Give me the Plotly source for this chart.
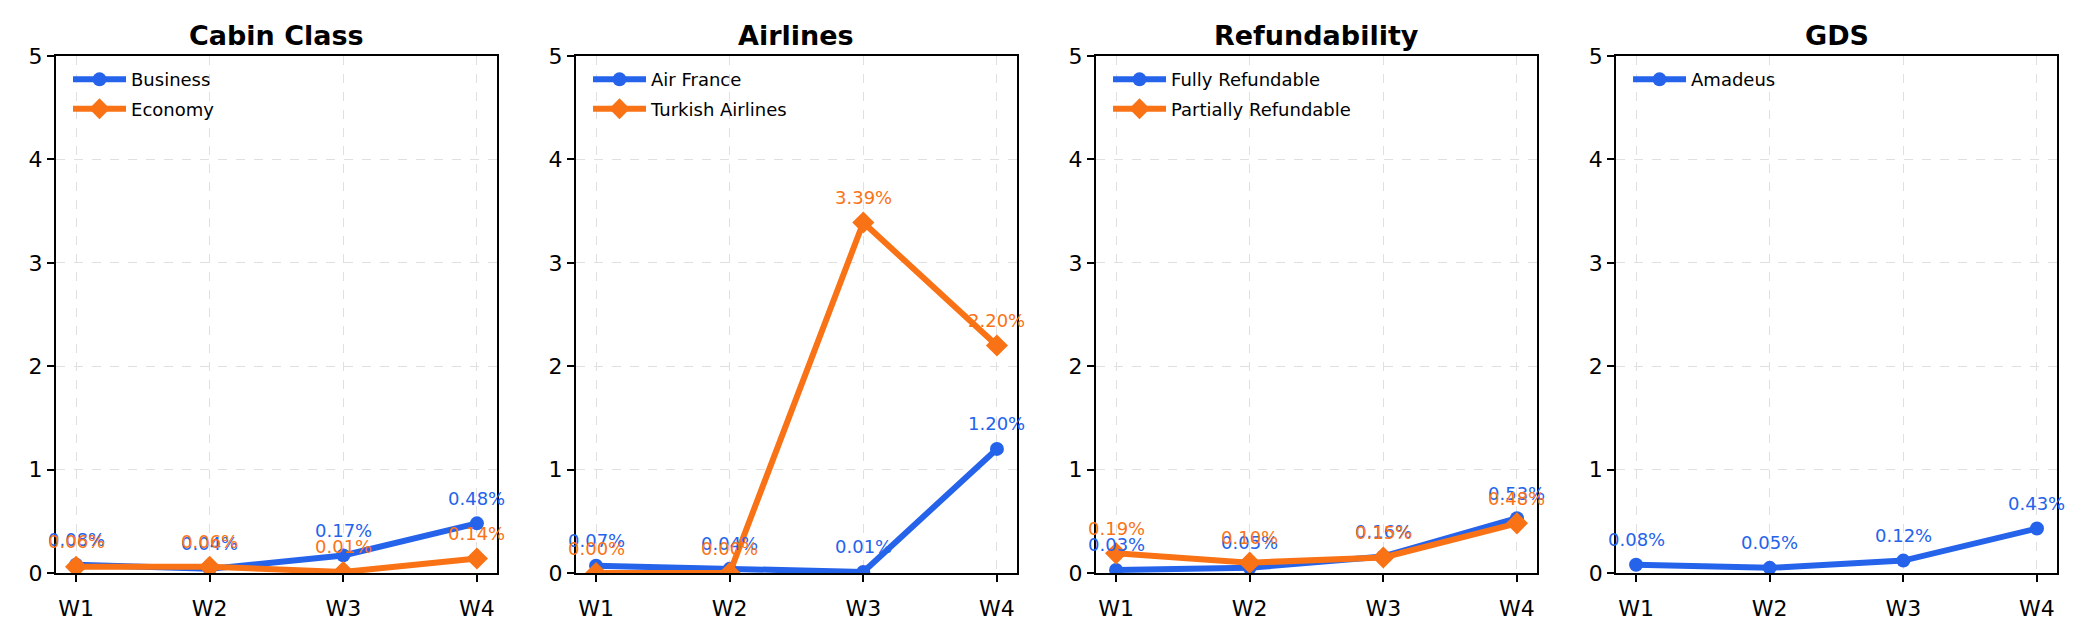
import plotly.graph_objects as go
from plotly.subplots import make_subplots

weeks = ["W1", "W2", "W3", "W4"]

panel_titles = ["Cabin Class", "Airlines", "Refundability", "GDS"]

# cabin class
business = [0.08, 0.04, 0.17, 0.48]
economy = [0.06, 0.06, 0.01, 0.14]

# airlines
air_france = [0.07, 0.04, 0.01, 1.20]
turkish = [0.00, 0.00, 3.39, 2.20]

# refundability
fully_ref = [0.03, 0.05, 0.16, 0.53]
partially_ref = [0.19, 0.10, 0.15, 0.48]

# gds
amadeus = [0.08, 0.05, 0.12, 0.43]

y_ticks = [0, 1, 2, 3, 4, 5]

blue = "#2563eb"
orange = "#f97316"

panels = [
    [("Business", business, blue, "circle"), ("Economy", economy, orange, "diamond")],
    [("Air France", air_france, blue, "circle"), ("Turkish Airlines", turkish, orange, "diamond")],
    [("Fully Refundable", fully_ref, blue, "circle"), ("Partially Refundable", partially_ref, orange, "diamond")],
    [("Amadeus", amadeus, blue, "circle")],
]

fig = make_subplots(rows=1, cols=4, horizontal_spacing=0.0395,
                    subplot_titles=["<b>%s</b>" % t for t in panel_titles])

for i, series in enumerate(panels):
    legend_name = "legend" if i == 0 else "legend%d" % (i + 1)
    axis_sfx = "" if i == 0 else str(i + 1)
    for name, vals, color, symbol in series:
        fig.add_trace(go.Scatter(
            x=weeks, y=vals, name=name, mode="lines+markers",
            line=dict(color=color, width=6),
            marker=dict(color=color, size=14 if symbol == "circle" else 17, symbol=symbol),
            legend=legend_name, legendgroup=name,
        ), row=1, col=i + 1)
        # value labels above each point
        for w, v in zip(weeks, vals):
            fig.add_annotation(x=w, y=v, xref="x" + axis_sfx, yref="y" + axis_sfx,
                               text="%.2f%%" % v, showarrow=False,
                               yanchor="middle", yshift=25,
                               font=dict(size=18, color=color))

axis_style = dict(showline=True, linecolor="black", linewidth=2, mirror=True,
                  ticks="outside", ticklen=7, tickcolor="black", tickwidth=2,
                  showgrid=True, gridcolor="#e0e0e0", griddash="dash", gridwidth=1.3,
                  tickfont=dict(size=22, color="black"), zeroline=False)

fig.update_xaxes(type="category", range=[-0.15, 3.15], ticklabelstandoff=8, **axis_style)
fig.update_yaxes(range=[0, 5], tickvals=y_ticks, **axis_style)

for ann in fig.layout.annotations:
    if ann.text.startswith("<b>"):
        ann.font = dict(size=27, color="black", family="DejaVu Sans")
        ann.yshift = 3

layout_legends = {}
for i in range(4):
    key = "legend" if i == 0 else "legend%d" % (i + 1)
    dom = fig.layout["xaxis" if i == 0 else "xaxis%d" % (i + 1)].domain
    layout_legends[key] = dict(x=dom[0] + 0.006, y=0.99, xanchor="left", yanchor="top",
                               bgcolor="rgba(0,0,0,0)", borderwidth=0, itemwidth=53,
                               font=dict(size=18, color="black"), tracegroupgap=3)

# page body has an 8px margin, so the figure is sized to fit inside it
fig.update_layout(
    width=2070, height=624,
    margin=dict(l=48, r=21, t=48, b=59),
    plot_bgcolor="white", paper_bgcolor="white",
    font=dict(family="DejaVu Sans", color="black"),
    showlegend=True,
    **layout_legends,
)

fig.write_html("out.html")
